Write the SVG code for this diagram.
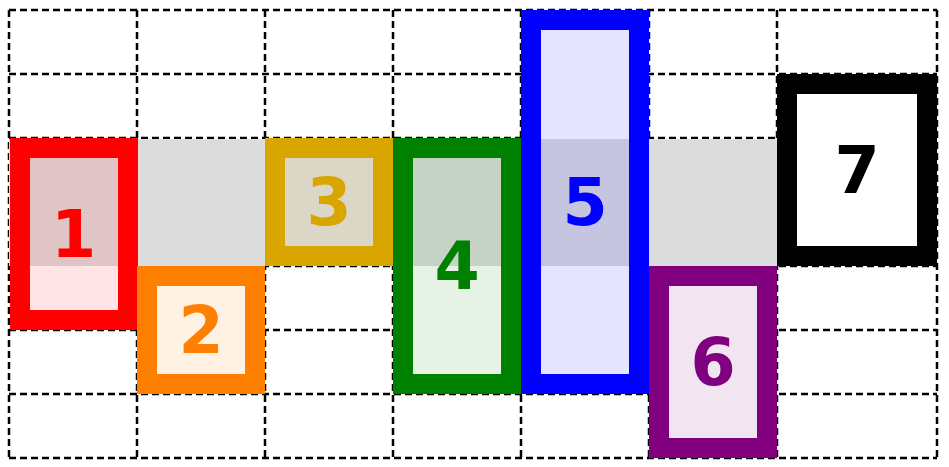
<svg xmlns="http://www.w3.org/2000/svg" width="949" height="467" viewBox="0 0 949 467">
<style>
.grid line{stroke:#000;stroke-width:2.5;stroke-dasharray:7 4;fill:none}
.base rect{fill:#fff}
.lbl{font-family:"DejaVu Sans","Liberation Sans",sans-serif;font-weight:bold;font-size:65px;text-anchor:middle;dominant-baseline:central}
</style>
<rect width="949" height="467" fill="#fff"/>
<g class="grid" id="grid">
<line x1="9" y1="10" x2="9" y2="458"/>
<line x1="137" y1="10" x2="137" y2="458"/>
<line x1="265" y1="10" x2="265" y2="458"/>
<line x1="393" y1="10" x2="393" y2="458"/>
<line x1="521" y1="10" x2="521" y2="458"/>
<line x1="649" y1="10" x2="649" y2="458"/>
<line x1="777" y1="10" x2="777" y2="458"/>
<line x1="937" y1="10" x2="937" y2="458"/>
<line x1="9" y1="10" x2="937" y2="10"/>
<line x1="9" y1="74" x2="937" y2="74"/>
<line x1="9" y1="138" x2="937" y2="138"/>
<line x1="9" y1="202" x2="937" y2="202"/>
<line x1="9" y1="266" x2="937" y2="266"/>
<line x1="9" y1="330" x2="937" y2="330"/>
<line x1="9" y1="394" x2="937" y2="394"/>
<line x1="9" y1="458" x2="937" y2="458"/>
</g>
<g class="base" id="bases">
<rect x="10" y="138" width="128" height="192"/>
<rect x="137" y="266" width="128" height="128"/>
<rect x="265" y="138" width="128" height="128"/>
<rect x="393" y="138" width="128" height="256"/>
<rect x="521" y="10" width="128" height="384"/>
<rect x="649" y="266" width="128" height="192"/>
<rect x="777" y="74" width="160" height="192"/>
</g>
<rect id="band" x="9" y="139" width="928" height="127" fill="#dcdcdc"/>
<g id="n1"><rect x="20" y="148" width="108" height="172" fill="rgba(255,0,0,0.1)" stroke="#ff0000" stroke-width="20"/><text class="lbl" x="73.5" y="234" fill="#ff0000">1</text></g>
<g id="n2"><rect x="147" y="276" width="108" height="108" fill="rgba(255,128,0,0.1)" stroke="#ff8000" stroke-width="20"/><text class="lbl" x="201" y="330" fill="#ff8000">2</text></g>
<g id="n3"><rect x="275" y="148" width="108" height="108" fill="rgba(218,165,0,0.1)" stroke="#d9a600" stroke-width="20"/><text class="lbl" x="329" y="202" fill="#d9a600">3</text></g>
<g id="n4"><rect x="403" y="148" width="108" height="236" fill="rgba(0,128,0,0.1)" stroke="#008000" stroke-width="20"/><text class="lbl" x="457" y="266" fill="#008000">4</text></g>
<g id="n5"><rect x="531" y="20" width="108" height="364" fill="rgba(0,0,255,0.1)" stroke="#0000ff" stroke-width="20"/><text class="lbl" x="585" y="202" fill="#0000ff">5</text></g>
<g id="n6"><rect x="659" y="276" width="108" height="172" fill="rgba(128,0,128,0.1)" stroke="#800080" stroke-width="20"/><text class="lbl" x="713" y="362" fill="#800080">6</text></g>
<g id="n7"><rect x="787" y="84" width="140" height="172" fill="#fff" stroke="#000" stroke-width="20"/><text class="lbl" x="857" y="170" fill="#000">7</text></g>
</svg>
